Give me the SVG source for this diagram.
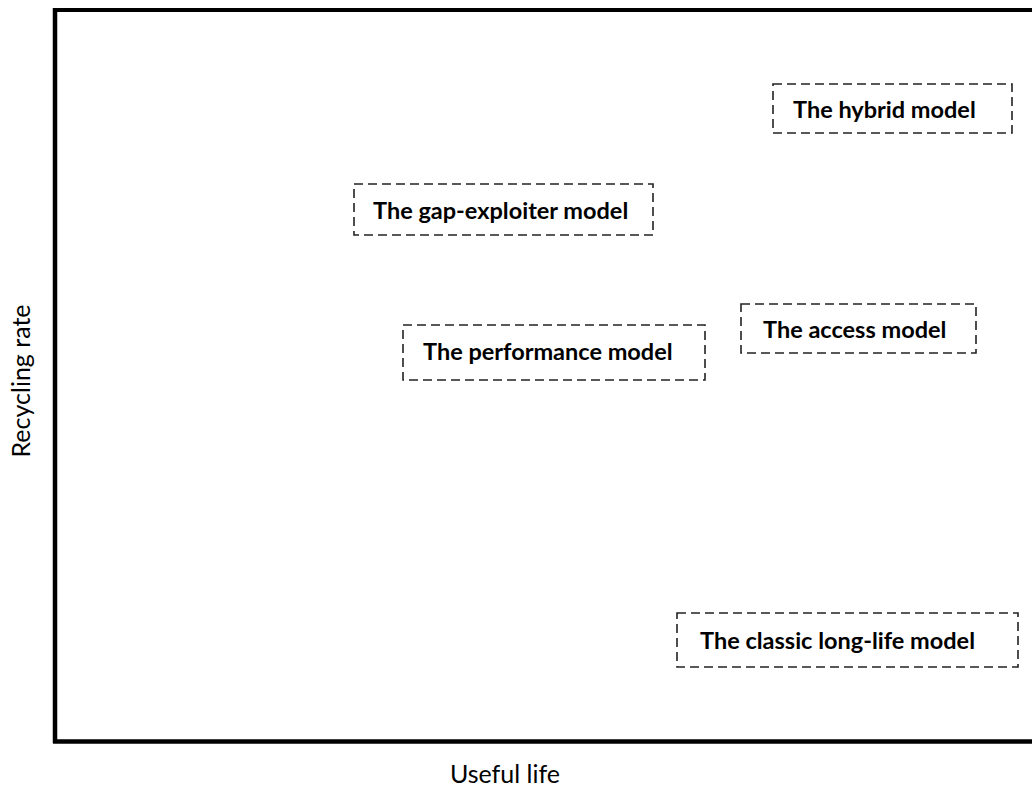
<svg xmlns="http://www.w3.org/2000/svg" width="1032" height="787" viewBox="0 0 1032 787">
  <style>
    .box { fill: none; stroke: #222; stroke-width: 1.6; stroke-dasharray: 9 5; }
    .label { font-family: Lato, "Open Sans", "Liberation Sans", sans-serif; font-weight: bold; font-size: 23.5px; fill: #000; }
    .axis-title { font-family: Lato, "Open Sans", "Liberation Sans", sans-serif; font-size: 25px; fill: #000; }
    .frame { fill: none; stroke: #000; }
  </style>
  <rect width="1032" height="787" fill="#fff"/>

  <!-- plot frame: left and bottom axes, top edge -->
  <g id="frame">
    <line class="frame" x1="53" y1="10" x2="1032" y2="10" stroke-width="4"/>
    <line class="frame" x1="55" y1="8" x2="55" y2="743" stroke-width="4.5"/>
    <line class="frame" x1="53" y1="741.5" x2="1032" y2="741.5" stroke-width="4.5"/>
  </g>

  <g id="axis-titles">
    <text class="axis-title" x="505" y="783" text-anchor="middle">Useful life</text>
    <text class="axis-title" transform="translate(30 381) rotate(-90)" text-anchor="middle">Recycling rate</text>
  </g>

  <g id="hybrid">
    <rect class="box" x="773" y="84" width="239" height="49"/>
    <text class="label" x="793" y="118">The hybrid model</text>
  </g>

  <g id="gap-exploiter">
    <rect class="box" x="354" y="184" width="299" height="51"/>
    <text class="label" x="373" y="219">The gap-exploiter model</text>
  </g>

  <g id="performance">
    <rect class="box" x="403" y="325" width="302" height="55"/>
    <text class="label" x="423" y="360">The performance model</text>
  </g>

  <g id="access">
    <rect class="box" x="741" y="304" width="235" height="49"/>
    <text class="label" x="763" y="338">The access model</text>
  </g>

  <g id="classic-long-life">
    <rect class="box" x="677" y="613" width="341" height="54"/>
    <text class="label" x="700" y="649">The classic long-life model</text>
  </g>
</svg>
